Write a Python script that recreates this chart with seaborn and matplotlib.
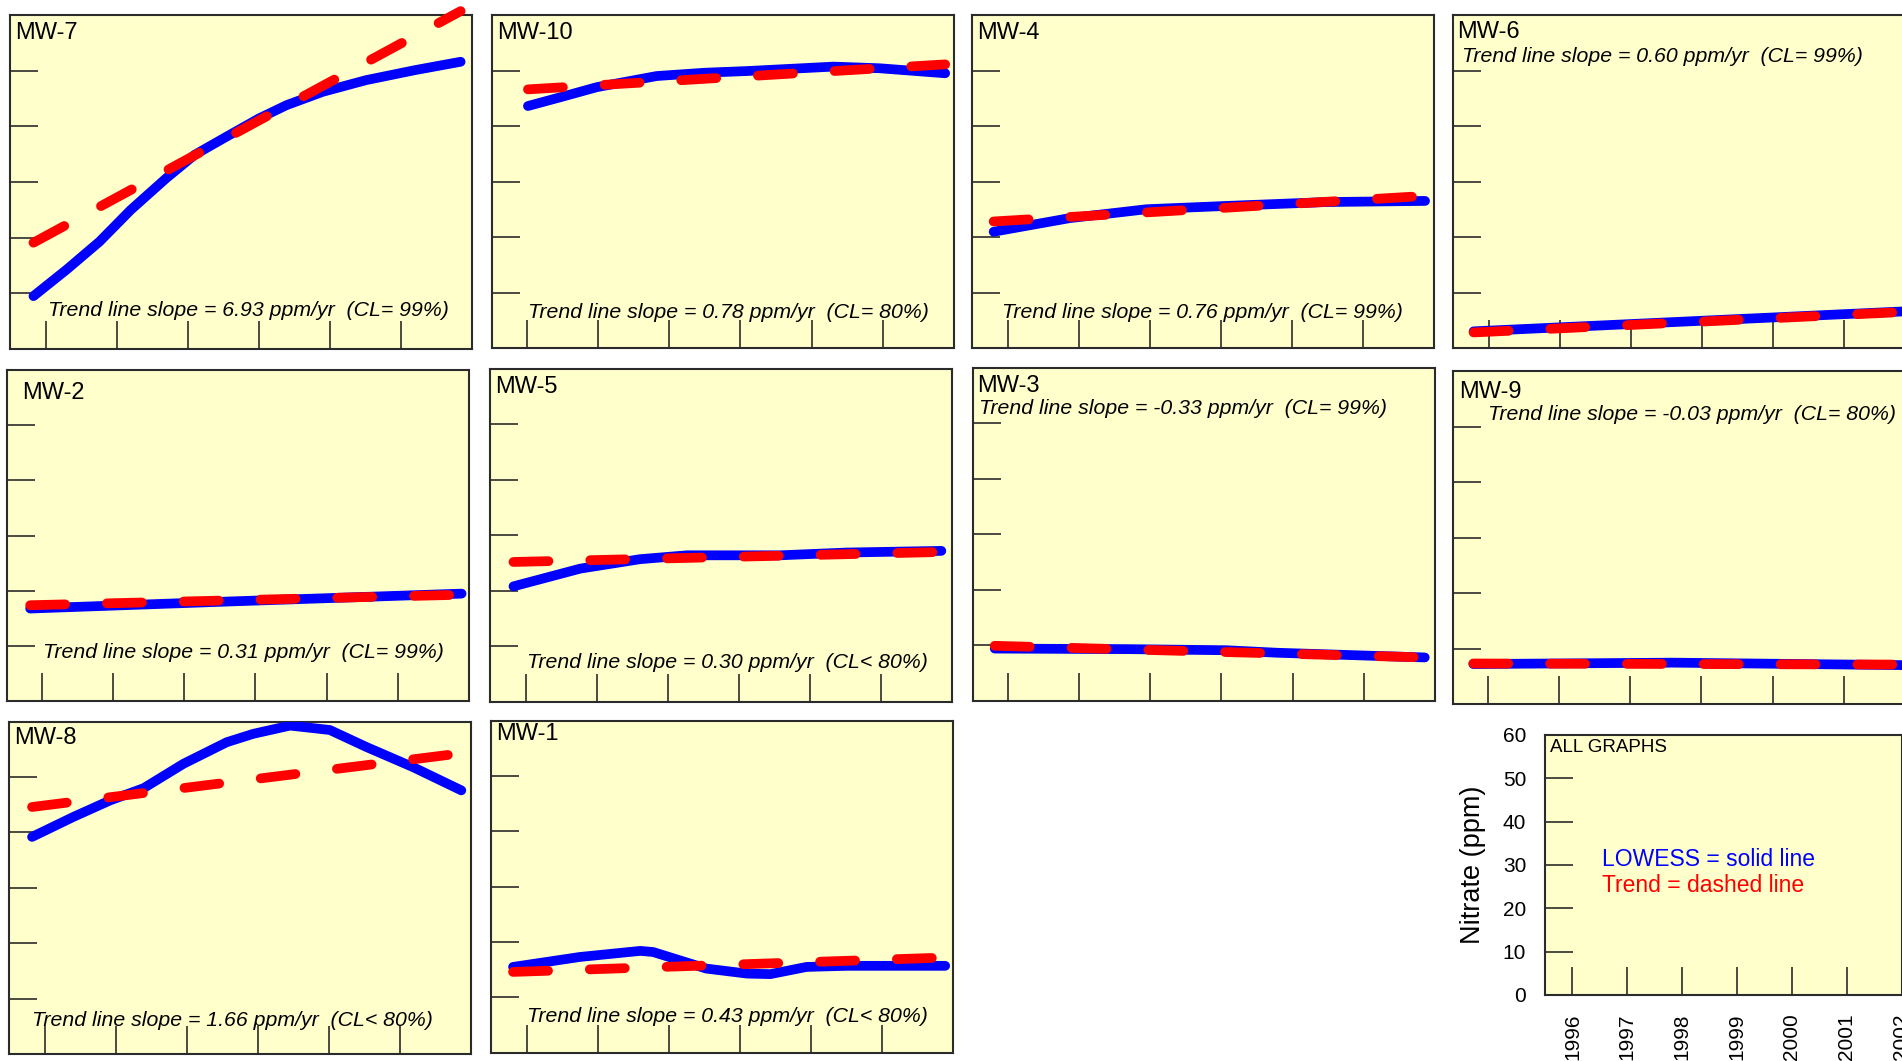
import matplotlib
matplotlib.use('Agg')
import matplotlib.pyplot as plt
import seaborn as sns

sns.set_style('white')
plt.rcParams['font.family'] = ['Liberation Sans', 'DejaVu Sans']
plt.rcParams['text.color'] = 'black'
plt.rcParams['xtick.labelcolor'] = 'black'
plt.rcParams['ytick.labelcolor'] = 'black'

W, H = 1902, 1061
BG = '#ffffcc'
BLUE = '#0000ff'
RED = '#ff0000'
EDGE = '#2b2b2b'

# ---- data (years, nitrate ppm) ----
mw7_years = [1995.83, 1996.3, 1996.76, 1997.2, 1997.7, 1998.1, 1998.54, 1999.0, 1999.39, 1999.9, 2000.51, 2001.2, 2001.84]
mw7_lowess = [9.5, 14.3, 19.3, 25.0, 30.7, 34.9, 38.1, 41.4, 43.8, 46.2, 48.3, 50.1, 51.6]
mw7_trend = [19.1, 60.7]

mw10_years = [1996.01, 1996.5, 1996.98, 1997.4, 1997.82, 1998.5, 1999.09, 1999.7, 2000.31, 2000.96, 2001.88]
mw10_lowess = [43.6, 45.3, 47.0, 48.0, 49.0, 49.6, 49.9, 50.3, 50.7, 50.4, 49.5]
mw10_trend = [46.6, 51.1]

mw4_years = [1995.80, 1996.87, 1997.95, 1999.08, 2000.49, 2001.87]
mw4_lowess = [20.95, 23.4, 25.0, 25.6, 26.3, 26.5]
mw4_trend = [22.8, 27.4]

mw6_years = [1995.79, 2001.85]
mw6_lowess = [3.0, 6.6]
mw6_trend = [2.8, 6.5]

mw2_years = [1995.83, 1998.68, 2001.9]
mw2_lowess = [16.8, 18.1, 19.5]
mw2_trend = [17.4, 19.3]

mw5_years = [1995.83, 1996.77, 1997.61, 1998.27, 1999.58, 2000.52, 2001.85]
mw5_lowess = [20.8, 24.0, 25.7, 26.4, 26.4, 26.9, 27.2]
mw5_trend = [25.2, 27.0]

mw3_years = [1995.81, 1997.67, 1999.07, 1999.78, 2001.86]
mw3_lowess = [9.4, 9.3, 9.1, 8.65, 7.8]
mw3_trend = [9.9, 7.8]

mw9_years = [1995.79, 1998.6, 2001.85]
mw9_lowess = [7.2, 7.45, 7.0]
mw9_trend = [7.3, 7.1]

mw8_years = [1995.82, 1996.4, 1996.92, 1997.39, 1997.95, 1998.56, 1998.93, 1999.45, 2000.01, 2000.53, 2001.18, 2001.86]
mw8_lowess = [39.2, 42.8, 45.8, 48.0, 52.4, 56.3, 57.8, 59.3, 58.5, 55.4, 51.8, 47.6]
mw8_trend = [44.6, 54.3]

mw1_years = [1995.81, 1996.75, 1997.6, 1997.78, 1998.53, 1999.1, 1999.43, 1999.94, 2000.5, 2001.89]
mw1_lowess = [15.5, 17.3, 18.4, 18.2, 15.2, 14.3, 14.2, 15.5, 15.7, 15.7]
mw1_trend = [14.6, 17.2]

well_names = ['MW-7', 'MW-10', 'MW-4', 'MW-6', 'MW-2', 'MW-5', 'MW-3', 'MW-9', 'MW-8', 'MW-1']
slopes = ['6.93', '0.78', '0.76', '0.60', '0.31', '0.30', '-0.33', '-0.03', '1.66', '0.43']
conf = ['CL= 99%', 'CL= 80%', 'CL= 99%', 'CL= 99%', 'CL= 99%', 'CL< 80%', 'CL= 99%', 'CL= 80%', 'CL< 80%', 'CL< 80%']
series = [
    (mw7_years, mw7_lowess, mw7_trend), (mw10_years, mw10_lowess, mw10_trend),
    (mw4_years, mw4_lowess, mw4_trend), (mw6_years, mw6_lowess, mw6_trend),
    (mw2_years, mw2_lowess, mw2_trend), (mw5_years, mw5_lowess, mw5_trend),
    (mw3_years, mw3_lowess, mw3_trend), (mw9_years, mw9_lowess, mw9_trend),
    (mw8_years, mw8_lowess, mw8_trend), (mw1_years, mw1_lowess, mw1_trend),
]

year_ticks = [1996, 1997, 1998, 1999, 2000, 2001, 2002]
ppm_ticks = [0, 10, 20, 30, 40, 50, 60]

# ---- layout in pixels: left, top, bottom / label (x, y) / trend text (x, y) ----
boxes = [(10, 15, 349), (491.7, 15, 348), (972.3, 15, 348), (1453, 15, 348),
         (6.7, 370, 701.3), (490, 369, 701.7), (972.7, 368, 700.7), (1452.7, 371, 704),
         (9.3, 721.7, 1054), (491, 720.7, 1052.7)]
label_xy = [(15, 33), (497, 33), (977, 33), (1457, 32),
            (22, 393), (495, 387), (977, 386), (1459, 392),
            (14, 738), (496, 734)]
text_xy = [(48, 310), (528, 313), (1002, 313), (1462, 57),
           (43, 652), (527, 662), (979, 408), (1488, 414),
           (32, 1021), (527, 1016)]
PANEL_W = 462


def fx(x):
    return x / W


def fy(y):
    return 1 - y / H


def style_axes(ax):
    ax.set_facecolor(BG)
    ax.set_xlim(1995.5, 2002)
    ax.set_ylim(0, 60)
    ax.set_xticks(year_ticks)
    ax.set_yticks(ppm_ticks)
    ax.tick_params(direction='in', length=20, width=1.2, color=EDGE,
                   left=True, bottom=True, labelleft=False, labelbottom=False)
    for sp in ax.spines.values():
        sp.set_color(EDGE)
        sp.set_linewidth(1.5)
    ax.set_xlabel('')
    ax.set_ylabel('')


fig = plt.figure(figsize=(W / 100, H / 100), dpi=100)

for i, name in enumerate(well_names):
    left, top, bottom = boxes[i]
    ax = fig.add_axes([fx(left), fy(bottom), PANEL_W / W, (bottom - top) / H])
    years, lowess, trend = series[i]

    sns.lineplot(x=years, y=lowess, ax=ax, color=BLUE, linewidth=7,
                 solid_capstyle='round', zorder=3)
    sns.lineplot(x=[years[0], years[-1]], y=trend, ax=ax, color=RED, linewidth=7,
                 linestyle=(0, (3.6, 4.3)), dash_capstyle='round', clip_on=False, zorder=4)
    style_axes(ax)

    fig.text(fx(label_xy[i][0]), fy(label_xy[i][1]), name, fontsize=17,
             ha='left', va='center')
    fig.text(fx(text_xy[i][0]), fy(text_xy[i][1]),
             f'Trend line slope = {slopes[i]} ppm/yr  ({conf[i]})',
             fontsize=15.3, style='italic', ha='left', va='center')

# legend / key panel with the shared axes
ax = fig.add_axes([fx(1545), fy(995), 356.7 / W, 260 / H])
style_axes(ax)
ax.tick_params(labelleft=True, labelbottom=True, labelsize=15, pad=13.5)
ax.set_xticklabels([str(y) for y in year_ticks], rotation=90)
ax.set_yticklabels([str(v) for v in ppm_ticks])
fig.text(fx(1473), fy(865), 'Nitrate (ppm)', fontsize=19.5, rotation=90,
         ha='center', va='center')
fig.text(fx(1550), fy(748), 'ALL GRAPHS', fontsize=13.5, ha='left', va='center')
fig.text(fx(1602), fy(860), 'LOWESS = solid line', fontsize=16.5, color=BLUE,
         ha='left', va='center')
fig.text(fx(1602), fy(886), 'Trend = dashed line', fontsize=16.5, color=RED,
         ha='left', va='center')

fig.savefig('out.png', dpi=100)
